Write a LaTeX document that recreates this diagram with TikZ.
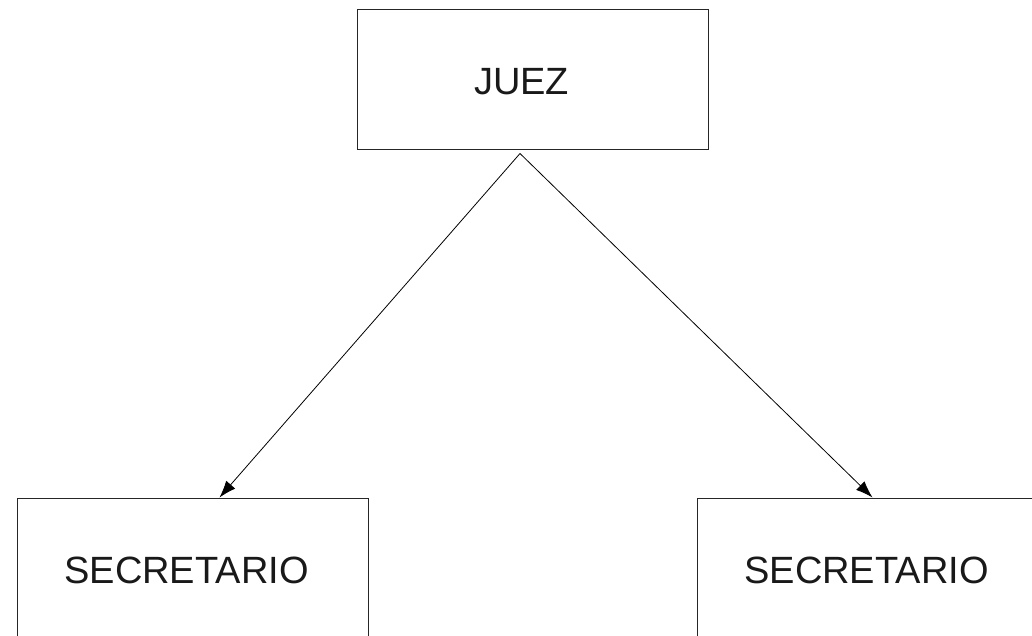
\documentclass[tikz,border=0pt]{standalone}
\usepackage{fontspec}
\setmainfont{Liberation Sans}
\usetikzlibrary{arrows.meta}

\tikzset{
  caja/.style={draw=black!85, line width=1pt, minimum width=351pt, inner sep=0pt},
  rotulo/.style={anchor=base, text=black!90, font=\fontsize{38}{40}\selectfont},
  flecha/.style={draw=black, line width=0.8pt, -{Latex[length=17pt,width=12pt]}}
}

\begin{document}
\begin{tikzpicture}[x=1pt,y=-1pt]
                \useasboundingbox (0,0) rectangle (1032,635);
                \clip (0,0) rectangle (1032,635);

                \node[caja, minimum height=140pt] (juez) at (532.5,79) {};
                \node[caja, minimum height=190pt] (secizq) at (192.5,593) {};
                \node[caja, minimum height=190pt] (secder) at (872.5,593) {};

                \node[rotulo] (tjuez) at (521.5,94) {JUEZ};
                \node[rotulo] (tsecizq) at (186.5,583) {SECRETARIO};
                \node[rotulo] (tsecder) at (866.5,583) {SECRETARIO};

                \coordinate (vertice) at ([xshift=-12.5pt,yshift=-4pt]juez.south);
                \coordinate (llegaizq) at ([xshift=27pt]secizq.north);
                \coordinate (llegader) at (secder.north);

                \draw[flecha] (vertice) -- (llegaizq);
                \draw[flecha] (vertice) -- (llegader);
            \end{tikzpicture}
\end{document}
